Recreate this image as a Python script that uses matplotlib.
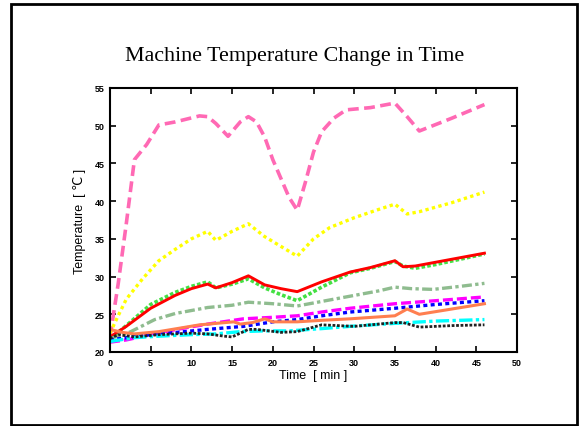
import numpy as np
import matplotlib.pyplot as plt
from matplotlib.patches import Rectangle

# time [min] / temperature [C]
t_pink = [0, 1, 2, 3, 4.5, 6, 8, 11, 12, 13, 14.5, 16, 17, 18, 19, 20, 21, 22, 23, 24, 25, 26, 27.5, 29, 32, 35, 36.5, 38, 42, 46]
T_pink = [22, 29, 37, 45.5, 47.5, 50.1, 50.5, 51.3, 51.2, 50.3, 48.6, 50.5, 51.2, 50.5, 48.5, 45.5, 43, 40.5, 38.8, 42.5, 46.5, 49.2, 51, 52.1, 52.4, 53.0, 51.2, 49.3, 51.0, 52.8]

t_yel = [0, 1, 2, 4, 6, 8, 10, 12, 13, 15, 17, 19, 21, 23, 25, 27, 30, 33, 35, 36.5, 38, 42, 46]
T_yel = [22.5, 24.8, 27, 29.7, 32.1, 33.6, 35, 36.0, 34.8, 36.0, 37.0, 35.3, 34.0, 32.7, 35, 36.5, 37.8, 38.9, 39.6, 38.3, 38.6, 39.8, 41.2]

t_red = [0, 2, 5, 8, 10, 12, 13, 15, 17, 19, 21, 23, 26, 29.5, 32, 35, 36, 37.5, 40, 46]
T_red = [22, 23.4, 25.8, 27.5, 28.4, 29.0, 28.5, 29.2, 30.1, 28.9, 28.4, 28.0, 29.3, 30.6, 31.2, 32.1, 31.3, 31.4, 31.9, 33.1]

t_grn = [0, 2, 5, 8, 10, 12, 13, 15, 17, 19, 21, 23, 26, 29.5, 32, 35, 36, 37.5, 40, 46]
T_grn = [21.7, 23.5, 26.3, 27.9, 28.7, 29.3, 28.5, 29.0, 29.7, 28.5, 27.6, 26.8, 28.6, 30.5, 31.1, 32.0, 31.4, 31.1, 31.6, 33.0]

t_sea = [0, 2, 5.5, 8, 12, 15, 17, 20, 23, 26, 29.5, 33, 35, 37, 39.7, 43, 46]
T_sea = [21.8, 22.4, 24.3, 25.1, 25.9, 26.2, 26.6, 26.4, 26.1, 26.7, 27.4, 28.1, 28.6, 28.4, 28.3, 28.7, 29.1]

t_mag = [0, 2, 5, 8.2, 12, 16.4, 20, 23, 26, 29.5, 35, 40, 46]
T_mag = [21.3, 21.6, 22.3, 23.0, 23.7, 24.4, 24.6, 24.8, 25.3, 25.8, 26.4, 26.8, 27.3]

t_blu = [0, 2, 5, 8.2, 12, 16.4, 20, 23, 26, 29.5, 35, 40, 46]
T_blu = [21.6, 21.9, 22.3, 22.6, 23.0, 23.4, 24.0, 24.3, 24.8, 25.3, 25.8, 26.3, 26.8]

t_cor = [0, 1.5, 3, 6, 11, 15.2, 16, 17.5, 19, 20, 23, 26, 29.5, 35, 36.5, 38, 42, 46]
T_cor = [23.0, 22.6, 22.4, 22.7, 23.6, 24.0, 23.7, 23.9, 24.4, 24.0, 24.0, 24.2, 24.4, 24.8, 25.7, 25.0, 25.7, 26.4]

t_cya = [0, 3, 6, 10, 13, 16, 19, 22, 26, 29.5, 35, 40, 46]
T_cya = [21.4, 21.9, 22.1, 22.3, 22.4, 22.7, 22.8, 22.8, 23.1, 23.4, 23.8, 24.1, 24.3]

t_blk = [0, 1, 3, 6, 10, 12, 14, 15, 17, 18, 21, 23, 26, 30, 35, 36, 38, 42, 46]
T_blk = [21.8, 22.3, 22.0, 22.3, 22.5, 22.4, 22.1, 22.0, 23.0, 23.0, 22.6, 22.7, 23.6, 23.4, 23.9, 23.9, 23.3, 23.5, 23.6]

fig = plt.figure(figsize=(5.83, 4.27), dpi=100)
fig.patches.append(Rectangle((11/583, 1/427), 566/583, 421/427, transform=fig.transFigure,
                             fill=False, edgecolor='black', linewidth=2))
ax = fig.add_axes([110/583, 1 - 353/427, 407/583, 264/427])

ax.plot(t_pink, T_pink, color='#ff69b4', linestyle=(0, (3, 1.5)), linewidth=2.6)
ax.plot(t_yel, T_yel, color='#ffff00', linestyle=(0, (1, 1)), linewidth=2.4)
ax.plot(t_grn, T_grn, color='#44e044', linestyle=(0, (1, 0.6)), linewidth=2.6)
ax.plot(t_red, T_red, color='#ff0000', linewidth=2.1)
ax.plot(t_sea, T_sea, color='#8fbc8f', linestyle=(0, (3, 1, 1, 1)), linewidth=2.4)
ax.plot(t_mag, T_mag, color='#ff00ff', linestyle=(0, (3, 1.2)), linewidth=2.4)
ax.plot(t_blu, T_blu, color='#0000ff', linestyle=(0, (1.2, 1)), linewidth=2.4)
ax.plot(t_cor, T_cor, color='#ff7f50', linewidth=2.2)
ax.plot(t_cya, T_cya, color='#00ffff', linestyle=(0, (4, 1, 1, 1)), linewidth=2.4)
ax.plot(t_blk, T_blk, color='#222222', linestyle=(0, (1, 0.6)), linewidth=2.0)

ax.set_xlim(0, 50)
ax.set_ylim(20, 55)
ax.set_xticks(np.arange(0, 51, 5))
ax.set_yticks(np.arange(20, 56, 5))
ax.tick_params(direction='in', top=True, right=True, length=4, width=1.2,
               labelsize=6.5, pad=4)
for lab in ax.get_xticklabels() + ax.get_yticklabels():
    lab.set_family('Liberation Sans')
    lab.set_fontweight('bold')
for s in ax.spines.values():
    s.set_linewidth(1.5)

ax.set_xlabel('Time  [ min ]', fontsize=9, family='Liberation Sans', labelpad=2)
ax.set_ylabel('Temperature  [ ℃ ]', fontsize=9, family=['Liberation Sans', 'DejaVu Sans'], labelpad=6)
fig.text(295/583, 1 - 57/427, 'Machine Temperature Change in Time', ha='center', va='center',
         fontsize=15.8, family='Liberation Serif')

fig.savefig('out.png', dpi=100)
